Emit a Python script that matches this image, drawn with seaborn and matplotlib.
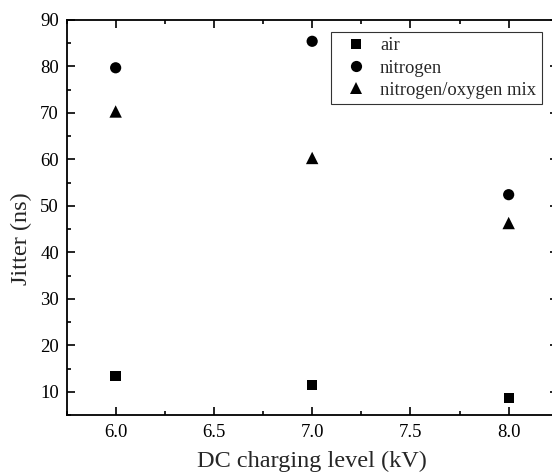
import pandas as pd
import matplotlib.pyplot as plt
import seaborn as sns
from matplotlib.ticker import MultipleLocator

# values
voltage = [6.0, 7.0, 8.0]
air = [13.4, 11.5, 8.7]
nitrogen = [79.7, 85.4, 52.4]
mix = [70.3, 60.3, 46.3]
gases = ['air', 'nitrogen', 'nitrogen/oxygen mix']

df = pd.DataFrame({
    'voltage': voltage * 3,
    'jitter': air + nitrogen + mix,
    'gas': [g for g in gases for _ in voltage],
})

sns.set_style('ticks')
plt.rcParams['font.family'] = ['Liberation Serif', 'DejaVu Serif']

fig = plt.figure(figsize=(5.52, 4.74), dpi=100)
ax = fig.add_axes([0.1205, 0.1245, 0.89, 0.8335])

sns.scatterplot(data=df, x='voltage', y='jitter', hue='gas', style='gas', size='gas',
                palette=['black'] * 3, markers=['s', 'o', '^'],
                sizes={'air': 55, 'nitrogen': 65, 'nitrogen/oxygen mix': 80},
                edgecolor='black', linewidth=0, ax=ax)

ax.set_xlim(5.75, 8.25)
ax.set_ylim(5, 90)
ax.xaxis.set_major_locator(MultipleLocator(0.5))
ax.xaxis.set_minor_locator(MultipleLocator(0.25))
ax.yaxis.set_major_locator(MultipleLocator(10))
ax.yaxis.set_minor_locator(MultipleLocator(5))
ax.set_yticks(range(10, 91, 10))
ax.tick_params(which='both', direction='in', top=True, right=True,
               labelsize=13.5, colors='black', width=1.2)
ax.tick_params(which='major', length=6)
ax.tick_params(which='minor', length=3)
ax.tick_params(axis='x', pad=6.5)
ax.tick_params(axis='y', pad=5.5)
for sp in ax.spines.values():
    sp.set_linewidth(1.3)
    sp.set_color('black')

ax.set_xlabel('DC charging level (kV)', fontsize=17.5, labelpad=7)
ax.set_ylabel('Jitter (ns)', fontsize=17.5)
ax.yaxis.set_label_coords(-0.070, 0.446)

leg = ax.legend(loc='upper right', bbox_to_anchor=(0.967, 0.970), borderaxespad=0,
                fontsize=13.4, frameon=True, fancybox=False, edgecolor='black',
                handletextpad=0.3, borderpad=0.3, labelspacing=0.28)
leg.get_frame().set_linewidth(0.8)

fig.savefig('out.png', dpi=100)
